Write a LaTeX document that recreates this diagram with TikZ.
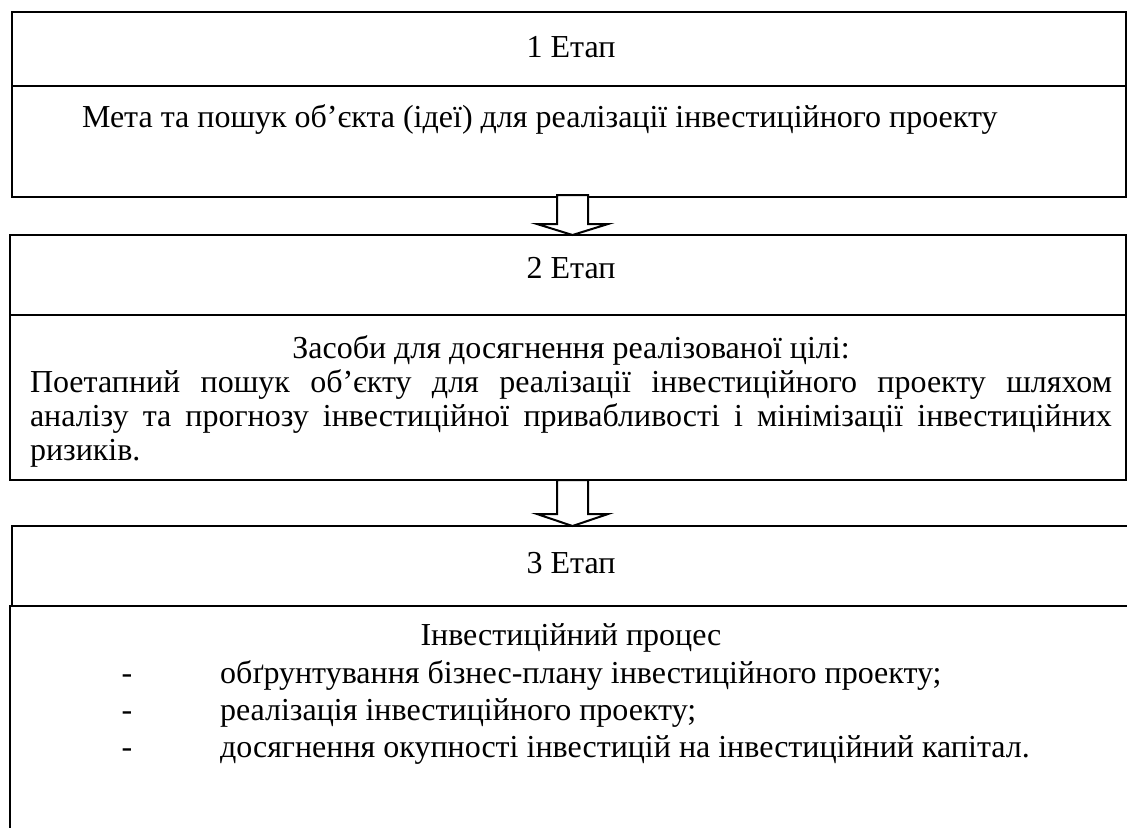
\documentclass[tikz,border=0pt]{standalone}
\usepackage{fontspec}
\setmainfont{Liberation Serif}
\usetikzlibrary{calc}
\begin{document}
\begin{tikzpicture}[x=0.5pt,y=-0.5pt,
  frame/.style={draw=black, line width=1pt, rectangle, inner sep=0pt, outer sep=0pt},
  txt/.style={font=\fontsize{16}{17}\selectfont, inner sep=0pt, outer sep=0pt},
  blockarr/.style={draw=black, fill=white, line width=1pt, line join=miter}]
\useasboundingbox (0,0) rectangle (1127,827);
\clip (0,0) rectangle (1127,827);

% stage 1
\node[frame, minimum width=557pt, minimum height=37pt]   (s1h) at (569,49) {};
\node[frame, minimum width=557pt, minimum height=55.5pt] (s1b) at (569,141.5) {};
% stage 2
\node[frame, minimum width=558pt, minimum height=40pt]   (s2h) at (568,275) {};
\node[frame, minimum width=558pt, minimum height=82.5pt] (s2b) at (568,397.5) {};
% stage 3 (runs past the right and bottom edges)
\node[frame, minimum width=564pt, minimum height=40pt]   (s3h) at (576,566) {};
\node[frame, minimum width=565pt, minimum height=122pt]  (s3b) at (575,728) {};

% texts
\node[txt, anchor=base] (t1h) at (571,57) {1 Етап};
\node[txt, anchor=base west] (t1b) at (82,127)
  {Мета та пошук об’єкта (ідеї) для реалізації інвестиційного проекту};
\node[txt, anchor=base] (t2h) at (571,278) {2 Етап};
\node[txt, anchor=base west] (t2b) at (30,358)
  {\parbox[t]{541pt}{\fontsize{16}{17}\selectfont\hyphenpenalty=10000
   {\centering Засоби для досягнення реалізованої цілі:\par}
   Поетапний пошук об’єкту для реалізації інвестиційного проекту шляхом\linebreak
   аналізу та прогнозу інвестиційної привабливості і мінімізації інвестиційних\linebreak
   ризиків.}};
\node[txt, anchor=base] (t3h) at (571,573) {3 Етап};
\node[txt, anchor=base] (t3b) at (571,645) {Інвестиційний процес};
\node[txt, anchor=base] (d1) at (127,683) {-};
\node[txt, anchor=base] (d2) at (127,720) {-};
\node[txt, anchor=base] (d3) at (127,757) {-};
\node[txt, anchor=base west] (i1) at (220,683) {обґрунтування бізнес-плану інвестиційного проекту;};
\node[txt, anchor=base west] (i2) at (220,720) {реалізація інвестиційного проекту;};
\node[txt, anchor=base west] (i3) at (220,757) {досягнення окупності інвестицій на інвестиційний капітал.};

% block arrows between stages
\coordinate (a1) at ($(s1b.south)+(3.5,0)$);
\coordinate (a2) at ($(s2b.south)+(4.5,0)$);
\draw[blockarr] ($(a1)+(-15.5,-2)$) -- ($(a1)+(-15.5,27)$) -- ($(a1)+(-35.5,27)$)
  -- ($(s2h.north -| a1)$) -- ($(a1)+(35.5,27)$) -- ($(a1)+(15.5,27)$)
  -- ($(a1)+(15.5,-2)$) -- cycle;
\draw[blockarr] ($(a2)+(-15.5,0)$) -- ($(a2)+(-15.5,34)$) -- ($(a2)+(-35.5,34)$)
  -- ($(s3h.north -| a2)$) -- ($(a2)+(35.5,34)$) -- ($(a2)+(15.5,34)$)
  -- ($(a2)+(15.5,0)$) -- cycle;
\end{tikzpicture}
\end{document}
